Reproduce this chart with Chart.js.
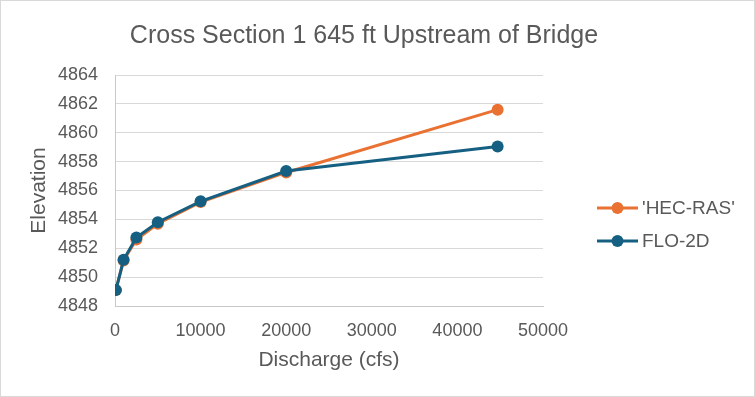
<!DOCTYPE html>
<html>
<head>
<meta charset="utf-8">
<script src="https://cdn.jsdelivr.net/npm/chart.js@4/dist/chart.umd.min.js"></script>
<style>
  html, body { margin: 0; padding: 0; background: #fff; }
  #wrap { width: 755px; height: 397px; position: relative; }
</style>
</head>
<body>
<div id="wrap"><canvas id="chart"></canvas></div>
<script>
const discharge = [100, 1000, 2500, 5000, 10000, 20000, 44700];
const hecRas = [4849.1, 4851.15, 4852.6, 4853.7, 4855.2, 4857.25, 4861.6];
const flo2d = [4849.1, 4851.2, 4852.75, 4853.8, 4855.25, 4857.35, 4859.05];
const seriesNames = ["'HEC-RAS'", "FLO-2D"];
const chartTitle = 'Cross Section 1 645 ft Upstream of Bridge';

const orange = '#E97132';
const blue = '#156082';
const textGray = '#595959';
const fontName = '"Liberation Sans", Arial, sans-serif';

// title, legend and frame drawn by hand so they sit where Excel put them
const extras = {
    id: 'extras',
    afterDraw(chart) {
        const c = chart.ctx;
        c.save();
        c.strokeStyle = '#D9D9D9';
        c.lineWidth = 1;
        c.strokeRect(0.5, 0.5, 754, 396);

        c.fillStyle = textGray;
        c.font = '25px ' + fontName;
        c.textAlign = 'center';
        c.textBaseline = 'alphabetic';
        c.fillText(chartTitle, 364, 43);

        const colors = [orange, blue];
        const rows = [208, 241];
        c.font = '19px ' + fontName;
        c.textAlign = 'left';
        c.textBaseline = 'middle';
        seriesNames.forEach((name, i) => {
            const y = rows[i];
            c.strokeStyle = colors[i];
            c.lineWidth = 3;
            c.beginPath();
            c.moveTo(597, y);
            c.lineTo(638, y);
            c.stroke();
            c.fillStyle = colors[i];
            c.beginPath();
            c.arc(617.5, y, 6, 0, Math.PI * 2);
            c.fill();
            c.fillStyle = textGray;
            c.fillText(name, 642, y + 1);
        });
        c.restore();
    }
};

new Chart(document.getElementById('chart'), {
    type: 'scatter',
    data: {
        datasets: [
            {
                label: seriesNames[0],
                data: discharge.map((x, i) => ({ x: x, y: hecRas[i] })),
                borderColor: orange,
                backgroundColor: orange,
                order: 1
            },
            {
                label: seriesNames[1],
                data: discharge.map((x, i) => ({ x: x, y: flo2d[i] })),
                borderColor: blue,
                backgroundColor: blue,
                order: 0
            }
        ]
    },
    options: {
        responsive: true,
        maintainAspectRatio: false,
        animation: false,
        showLine: true,
        layout: { padding: { left: 0, top: 75, right: 212, bottom: 0 } },
        elements: {
            line: { borderWidth: 3, tension: 0 },
            point: { radius: 6, borderWidth: 0, hoverRadius: 6 }
        },
        plugins: {
            legend: { display: false },
            title: { display: false },
            tooltip: { enabled: false }
        },
        scales: {
            x: {
                type: 'linear',
                min: 0,
                max: 50000,
                afterFit: s => { s.height = 91; },
                ticks: {
                    stepSize: 10000,
                    color: textGray,
                    padding: 14,
                    maxRotation: 0,
                    font: { family: fontName, size: 18 },
                    callback: v => String(v)
                },
                grid: { display: false, drawTicks: false },
                border: { display: true, color: '#C8C8C8', width: 1 },
                title: {
                    display: true,
                    text: 'Discharge (cfs)',
                    color: textGray,
                    font: { family: fontName, size: 21 },
                    padding: { top: 0, bottom: 24 }
                }
            },
            y: {
                min: 4848,
                max: 4864,
                afterFit: s => { s.width = 115; },
                ticks: {
                    stepSize: 2,
                    color: textGray,
                    padding: 17,
                    font: { family: fontName, size: 18 },
                    callback: v => String(v)
                },
                grid: { color: '#D9D9D9', drawTicks: false, lineWidth: 1 },
                border: { display: true, color: '#C8C8C8', width: 1 },
                title: {
                    display: true,
                    text: 'Elevation',
                    color: textGray,
                    font: { family: fontName, size: 21 },
                    padding: { top: 27, bottom: 0 }
                }
            }
        }
    },
    plugins: [extras]
});
</script>
</body>
</html>
